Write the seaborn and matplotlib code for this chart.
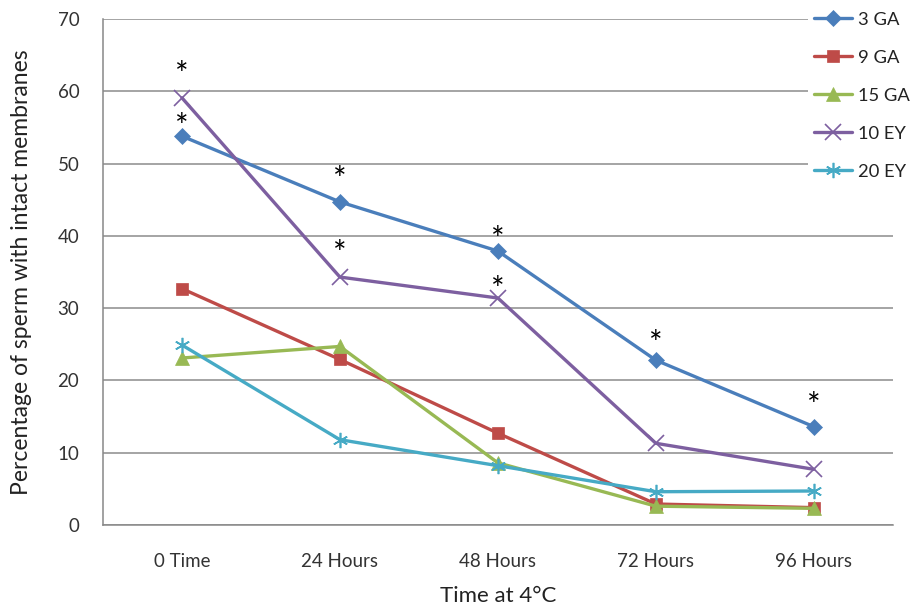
import matplotlib
matplotlib.use("Agg")
import matplotlib.pyplot as plt
import seaborn as sns
import pandas as pd

# data
times = ["0 Time", "24 Hours", "48 Hours", "72 Hours", "96 Hours"]
ga3 = [53.8, 44.7, 37.9, 22.8, 13.6]
ga9 = [32.7, 22.9, 12.7, 2.9, 2.4]
ga15 = [23.1, 24.7, 8.6, 2.6, 2.3]
ey10 = [59.1, 34.3, 31.4, 11.3, 7.7]
ey20 = [24.9, 11.8, 8.2, 4.6, 4.7]
series_names = ["3 GA", "9 GA", "15 GA", "10 EY", "20 EY"]
# significance asterisks: (series, time index)
stars = [("3 GA", 0), ("3 GA", 1), ("3 GA", 2), ("3 GA", 3), ("3 GA", 4),
         ("10 EY", 0), ("10 EY", 1), ("10 EY", 2)]
# how far above the point each asterisk sits (points)
star_lift = [6, 15, 7, 11, 14, 16, 16, 5]

colors = ["#4a7ebb", "#be4b48", "#98b954", "#7d5fa0", "#46aac5"]
markers = ["D", "s", "^", "x", (6, 2, 0)]
msizes = [8, 9, 10, 11, 11]

values = dict(zip(series_names, [ga3, ga9, ga15, ey10, ey20]))
df = pd.DataFrame([
    {"time": t, "pos": i, "value": v, "group": name}
    for name, vals in values.items()
    for i, (t, v) in enumerate(zip(times, vals))
])

sns.set_style("white")
plt.rcParams["font.family"] = ["Lato", "DejaVu Sans"]

fig = plt.figure(figsize=(9.11, 6.14), dpi=100)
ax = fig.add_axes([0.113, 0.145, 0.867, 0.824])

for name, c, m, ms in zip(series_names, colors, markers, msizes):
    sub = df[df["group"] == name]
    thin = m == "x" or isinstance(m, tuple)
    sns.lineplot(data=sub, x="pos", y="value", ax=ax, color=c, marker=m,
                 markersize=ms, linewidth=2.4, markeredgewidth=1.2 if thin else 0.5,
                 markeredgecolor=c, label=name, sort=False)

for (name, i), lift in zip(stars, star_lift):
    ax.annotate("*", (i, values[name][i]), xytext=(0, lift), textcoords="offset points",
                ha="center", va="center", fontsize=23, color="black")

ax.set_xlim(-0.5, 4.5)
ax.set_ylim(0, 70)
ax.set_yticks(range(0, 71, 10))
ax.set_xticks(range(len(times)))
ax.set_xticklabels(times)
ax.set_xticks([x - 0.5 for x in range(len(times) + 1)], minor=True)
ax.tick_params(axis="x", which="major", length=0, pad=20, labelsize=13.5, colors="#333333")
ax.tick_params(axis="x", which="minor", length=5, color="#888888", direction="out")
ax.tick_params(axis="y", length=5, color="#888888", direction="out", labelsize=13.5,
               labelcolor="#333333", pad=12)
ax.yaxis.grid(True, color="#8c8c8c", linewidth=1.1)
ax.set_axisbelow(True)
for s in ["top", "right"]:
    ax.spines[s].set_visible(False)
for s in ["left", "bottom"]:
    ax.spines[s].set_color("#888888")
    ax.spines[s].set_linewidth(1.1)

ax.set_xlabel("Time at 4\u00b0C", fontsize=16, labelpad=12, color="#222222")
ax.set_ylabel("Percentage of sperm with intact membranes", fontsize=16.5, labelpad=18, color="#222222")

leg = ax.legend(loc="upper left", bbox_to_anchor=(0.887, 0.99), bbox_transform=fig.transFigure,
                frameon=True, facecolor="white", edgecolor="none", framealpha=1,
                fontsize=13.2, labelspacing=1.2, handlelength=2.1, handletextpad=0.3,
                borderaxespad=0, borderpad=0.3, fancybox=False)
for t in leg.get_texts():
    t.set_color("#222222")

fig.savefig("out.png", dpi=100)
